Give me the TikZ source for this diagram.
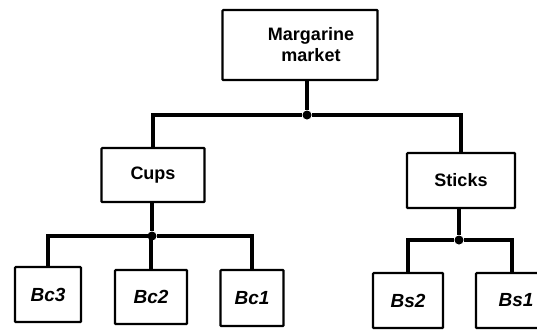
\documentclass[tikz,border=0pt]{standalone}
\usepackage{fontspec}
\setmainfont{Liberation Sans}
\begin{document}
\begin{tikzpicture}[x=1pt,y=-1pt,
  box/.style={draw, line width=2.2pt, rounded corners=0.8pt, inner sep=0pt,
    font=\bfseries\fontsize{18}{21}\selectfont, align=center},
  leaf/.style={box, font=\bfseries\itshape\fontsize{19}{21}\selectfont},
  link/.style={line width=3.2pt},
  dot/.style={circle, fill=black, inner sep=0pt, minimum size=9pt}]
  \useasboundingbox (0,0) rectangle (537,330);
  \clip (0,0) rectangle (537,330);

  % market level
  \node[box, minimum width=155pt, minimum height=70pt] (top) at (300,45)
    {\hspace*{22pt}Margarine\\\hspace*{22pt}market};

  % product forms
  \node[box, minimum width=103pt, minimum height=54pt] (cups) at (153,175) {Cups};
  \node[box, minimum width=108pt, minimum height=55pt] (sticks) at (461,180.5) {Sticks};

  % brands
  \node[leaf, minimum width=66pt, minimum height=55pt] (bc3) at (48,294.5) {Bc3};
  \node[leaf, minimum width=72pt, minimum height=54pt] (bc2) at (151,297) {Bc2};
  \node[leaf, minimum width=63pt, minimum height=56pt] (bc1) at (252,298) {Bc1};
  \node[leaf, minimum width=70pt, minimum height=55pt] (bs2) at (408,300.5) {Bs2};
  \node[leaf, minimum width=72pt, minimum height=55pt] (bs1) at (512,300.5) {\hspace*{8pt}Bs1};

  % branching points
  \node[dot] (j0) at (307,115) {};
  \node[dot] (j1) at (152,236) {};
  \node[dot] (j2) at (459,240) {};

  % tree connectors
  \draw[link] (top.south -| j0) -- (j0);
  \draw[link] (j0) -| (cups);
  \draw[link] (j0) -| (sticks);

  \draw[link] (cups.south -| j1) -- (j1);
  \draw[link] (j1) -| (bc3);
  \draw[link] (j1) -| (bc2);
  \draw[link] (j1) -| (bc1);

  \draw[link] (sticks.south -| j2) -- (j2);
  \draw[link] (j2) -| (bs2);
  \draw[link] (j2) -| (bs1);
\end{tikzpicture}
\end{document}
